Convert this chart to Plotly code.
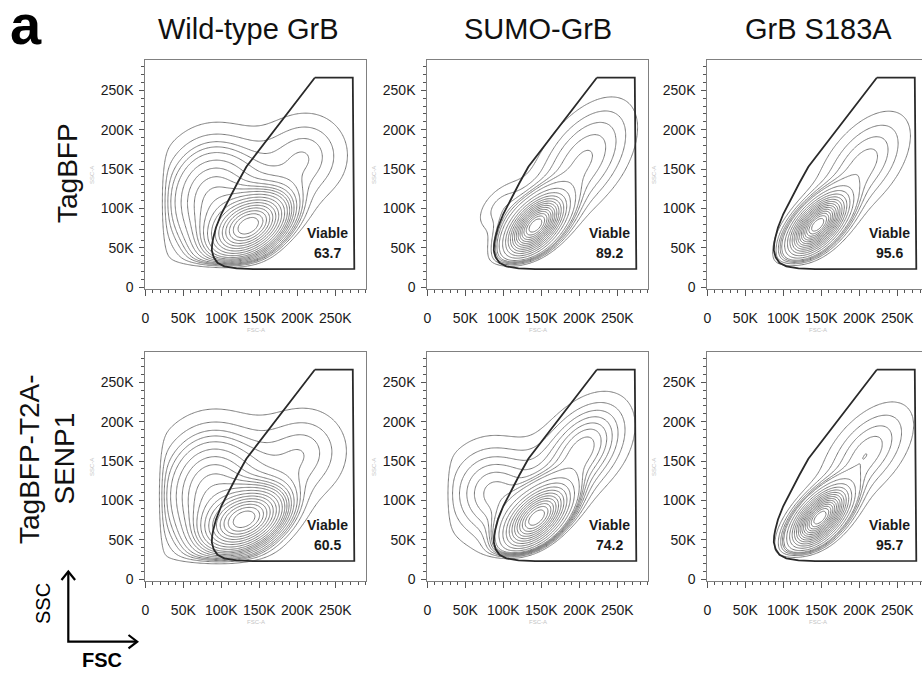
import numpy as np
import plotly.graph_objects as go

# ---------------- data (FSC/SSC in thousands) -------------
col_titles = ["Wild-type GrB", "SUMO-GrB", "GrB S183A"]
row_labels = [["TagBFP"], ["TagBFP-T2A-", "SENP1"]]
viable_pct = [[63.7, 89.2, 95.6],
              [60.5, 74.2, 95.7]]

tick_vals = [0, 50, 100, 150, 200, 250]
x_tick_text = ["0", "50K", "100K", "150K", "200K", "250K"]
y_tick_text = ["0", "50K", "100K", "150K", "200K", "250K"]

# "Viable" gate polygon (FSC-A, SSC-A), identical in every panel
gate_fsc = [223, 273, 275, 142, 120, 104, 95, 90, 87.5, 88, 89.5, 93, 100, 110, 121, 133, 160, 186, 223]
gate_ssc = [266, 266, 23.5, 23, 24, 26.5, 31, 38, 47, 55, 63, 76, 93, 112, 132, 153, 187, 219.5, 266]

# cell populations seen in each panel: (FSC centre, SSC centre, sd major, sd minor, angle deg, share)
pops_wt_tagbfp = [(138, 78, 33, 20, 30, 0.42), (92, 108, 45, 53, 0, 0.45), (210, 165, 42, 40, 40, 0.13)]
pops_sumo_tagbfp = [(142, 78, 28, 15, 45, 0.70), (205, 160, 58, 32, 52, 0.27), (95, 102, 28, 16, 45, 0.03)]
pops_s183a_tagbfp = [(145, 79, 28, 14, 45, 0.75), (205, 155, 50, 27, 50, 0.25)]
pops_wt_senp1 = [(133, 76, 33, 20, 25, 0.38), (90, 106, 47, 56, 0, 0.50), (208, 160, 42, 40, 40, 0.12)]
pops_sumo_senp1 = [(144, 78, 30, 16, 42, 0.53), (88, 108, 45, 46, 10, 0.25), (205, 165, 50, 32, 50, 0.22)]
pops_s183a_senp1 = [(148, 78, 28, 14, 45, 0.76), (210, 160, 48, 26, 48, 0.24)]

# lower SSC edge of each panel: (SSC floor, FSC where edge bends up, slope, bend width)
edge_wt_tagbfp = (28, 165, 1.00, 12)
edge_sumo_tagbfp = (28, 160, 1.00, 20)
edge_s183a_tagbfp = (28, 163, 1.05, 18)
edge_wt_senp1 = (22, 200, 1.30, 20)
edge_sumo_senp1 = (28, 160, 1.05, 20)
edge_s183a_senp1 = (29, 165, 1.00, 18)
# lower FSC edge per panel
fsc_floor = [[22, 50, 80], [19, 25, 80]]

# equal-probability contour levels (fraction of cells enclosed)
contour_start, contour_end, contour_step = 0.05, 0.95, 0.05

panel_pops = [[pops_wt_tagbfp, pops_sumo_tagbfp, pops_s183a_tagbfp],
              [pops_wt_senp1, pops_sumo_senp1, pops_s183a_senp1]]
panel_edges = [[edge_wt_tagbfp, edge_sumo_tagbfp, edge_s183a_tagbfp],
               [edge_wt_senp1, edge_sumo_senp1, edge_s183a_senp1]]

# ---------------- layout geometry (pixels of the 922x673 canvas) ----------------
W, H = 922, 673
col_x0 = [145.3, 427.3, 707.3]       # pixel of FSC = 0
row_top = [60.3, 352.3]              # pixel of frame top
frame_w, frame_h = 221.0, 228.4
px_per_k_x, px_per_k_y = 0.76, 0.788
y_zero_off = 1.4                      # px between frame bottom and SSC = 0


def px(x):
    return x / W


def py(y):
    return 1 - y / H


fsc_grid = np.arange(0, 293, 1.5)
ssc_grid = np.arange(-3, 291, 1.5)
GX, GY = np.meshgrid(fsc_grid, ssc_grid)


def enclosed_fraction(pops, edge, xfloor):
    d = np.zeros_like(GX)
    for cx, cy, smaj, smin, ang, w in pops:
        t = np.radians(ang)
        dx, dy = GX - cx, GY - cy
        u = dx * np.cos(t) + dy * np.sin(t)
        v = -dx * np.sin(t) + dy * np.cos(t)
        d += w * np.exp(-0.5 * ((u / smaj) ** 2 + (v / smin) ** 2)) / (smaj * smin)
    yfloor, xb, slope, bend = edge
    g = yfloor + slope * bend * np.logaddexp(0, (GX - xb) / bend)
    d = d / (1 + np.exp(-(GY - g) / 3.5)) / (1 + np.exp(-(GX - xfloor) / 3.0))
    flat = d.ravel()
    order = np.argsort(-flat)
    cum = np.cumsum(flat[order])
    cum /= cum[-1]
    q = np.empty_like(flat)
    q[order] = cum
    return q.reshape(d.shape)


fig = go.Figure()
layout_axes = {}
annotations = []
tick_font = dict(family="Liberation Sans, Arial", size=14, color="#1a1a1a")


def paper_text(x, y, text, size, angle=0, color="#111"):
    annotations.append(dict(x=px(x), y=py(y), xref="paper", yref="paper", text=text,
                            showarrow=False, textangle=angle, xanchor="center", yanchor="middle",
                            font=dict(family="Liberation Sans, Arial", size=size, color=color)))


for r in range(2):
    for c in range(3):
        n = r * 3 + c + 1
        xa = "x" if n == 1 else f"x{n}"
        ya = "y" if n == 1 else f"y{n}"
        x_left = col_x0[c]
        x_right = min(x_left + frame_w, W)
        top = row_top[r]
        bottom = top + frame_h
        xr = [0, (x_right - x_left) / px_per_k_x]
        yr = [-y_zero_off / px_per_k_y, (frame_h - y_zero_off) / px_per_k_y]

        z = enclosed_fraction(panel_pops[r][c], panel_edges[r][c], fsc_floor[r][c])
        fig.add_trace(go.Contour(
            x=fsc_grid, y=ssc_grid, z=z, xaxis=xa, yaxis=ya,
            contours=dict(coloring="lines", start=contour_start, end=contour_end,
                          size=contour_step, showlabels=False),
            colorscale=[[0, "#7a7a7a"], [1, "#7a7a7a"]], showscale=False,
            line=dict(width=1, smoothing=1.0), hoverinfo="skip"))
        fig.add_trace(go.Scatter(
            x=gate_fsc, y=gate_ssc, xaxis=xa, yaxis=ya, mode="lines",
            line=dict(color="#2a2a2a", width=1.8), hoverinfo="skip", showlegend=False))

        axis_common = dict(showgrid=False, zeroline=False, showline=True, linecolor="#808080",
                           linewidth=1, ticks="outside", tickcolor="#555", tickwidth=1,
                           tickfont=tick_font, tickvals=tick_vals, fixedrange=True,
                           automargin=False)
        layout_axes["xaxis" if n == 1 else f"xaxis{n}"] = dict(
            axis_common, domain=[px(x_left), px(x_right)], range=xr, anchor=ya,
            ticktext=x_tick_text, ticklen=6, mirror=True, ticklabelstandoff=10,
            minor=dict(dtick=10, ticklen=3, ticks="outside", tickcolor="#555"))
        layout_axes["yaxis" if n == 1 else f"yaxis{n}"] = dict(
            axis_common, domain=[py(bottom), py(top)], range=yr, anchor=xa,
            ticktext=y_tick_text, ticklen=5, mirror=(c < 2), ticklabelstandoff=3,
            minor=dict(dtick=10, ticklen=3, ticks="outside", tickcolor="#555"))

        # Viable label
        annotations.append(dict(x=240, y=69, xref=xa, yref=ya, text="<b>Viable</b>", showarrow=False,
                                font=dict(family="Liberation Sans, Arial", size=14, color="#1a1a1a")))
        annotations.append(dict(x=240, y=43.5, xref=xa, yref=ya, text=f"<b>{viable_pct[r][c]}</b>",
                                showarrow=False,
                                font=dict(family="Liberation Sans, Arial", size=14, color="#1a1a1a")))
        # faint instrument axis names
        paper_text(x_left + 110.5, bottom + 41, "FSC-A", 6, color="#c4c4c4")
        paper_text(x_left - 54, top + 114.5, "SSC-A", 6, angle=-90, color="#c4c4c4")

# column titles
title_x = [248, 538, 818]
for c in range(3):
    paper_text(title_x[c], 29.5, col_titles[c], 29)
# row labels
paper_text(68, 173, row_labels[0][0], 28, angle=-90)
row2_x = [29, 63.5]
for i, t in enumerate(row_labels[1]):
    paper_text(row2_x[i], 459, t, 28, angle=-90)
# panel letter
paper_text(26, 25, "<b>a</b>", 56, color="#000")
# SSC / FSC legend
paper_text(43, 604, "SSC", 20, angle=-90, color="#000")
paper_text(102, 660, "<b>FSC</b>", 20, color="#000")

shapes = [
    dict(type="path", xref="paper", yref="paper", line=dict(color="#000", width=2.2),
         path=f"M {px(68.3)},{py(572)} L {px(68.3)},{py(641.7)} L {px(136.7)},{py(641.7)}"),
    dict(type="path", xref="paper", yref="paper", line=dict(color="#000", width=2.2),
         path=f"M {px(61.5)},{py(580)} L {px(68.3)},{py(571.5)} L {px(75.1)},{py(580)}"),
    dict(type="path", xref="paper", yref="paper", line=dict(color="#000", width=2.2),
         path=f"M {px(128.5)},{py(635)} L {px(137.2)},{py(641.7)} L {px(128.5)},{py(648.4)}"),
]

fig.update_layout(width=W, height=H, margin=dict(l=0, r=0, t=0, b=0, autoexpand=False),
                  paper_bgcolor="white", plot_bgcolor="white", showlegend=False,
                  annotations=annotations, shapes=shapes, **layout_axes)

fig.write_html("out.html", config={"displayModeBar": False},
               post_script="document.body.style.margin='0';document.body.style.overflow='hidden';")
